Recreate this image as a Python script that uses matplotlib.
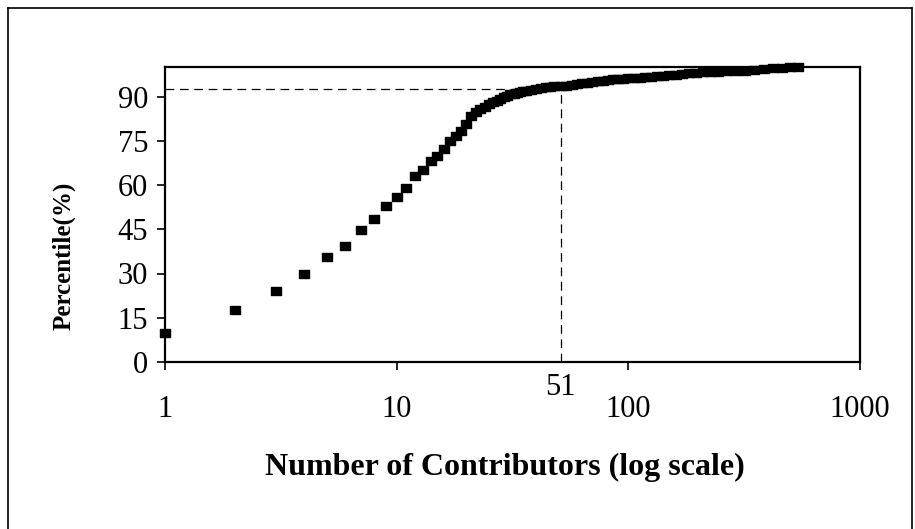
import numpy as np
import matplotlib
matplotlib.use('Agg')
import matplotlib.pyplot as plt
from matplotlib.lines import Line2D
from matplotlib.path import Path

plt.rcParams['font.family'] = ['Liberation Serif', 'DejaVu Serif']

# Datos (contribuidores vs percentil acumulado)
contributors = [1, 2, 3, 4, 5, 6, 7, 8, 9, 10, 11, 12, 13, 14, 15, 16, 17, 18,
                19, 20, 21, 22, 23, 24, 25, 26, 27, 28, 29, 30, 31, 32, 33, 34,
                35, 36, 38, 40, 42, 44, 46, 48, 51, 54, 57, 60, 63, 66, 70, 74,
                78, 82, 86, 90, 95, 100, 106, 112, 118, 125, 133, 141, 150, 160,
                170, 182, 195, 210, 225, 245, 265, 290, 320, 350, 385, 420, 460,
                500, 540]
percentile = [9.9, 17.7, 23.9, 29.9, 35.5, 39.2, 44.7, 48.5, 52.8, 55.9, 59.0,
              63.0, 65.0, 68.2, 70.0, 72.3, 74.8, 76.6, 78.4, 80.8, 83.3, 84.8,
              85.8, 86.6, 87.3, 88.0, 88.6, 89.2, 89.8, 90.3, 90.7, 91.0, 91.3,
              91.6, 91.8, 92.0, 92.3, 92.6, 92.9, 93.1, 93.2, 93.4, 93.5, 93.7,
              94.0, 94.3, 94.5, 94.7, 95.0, 95.2, 95.4, 95.7, 95.9, 96.0, 96.1,
              96.2, 96.3, 96.4, 96.5, 96.7, 96.9, 97.1, 97.2, 97.3, 97.5, 97.8,
              98.0, 98.2, 98.3, 98.4, 98.5, 98.6, 98.8, 99.0, 99.3, 99.6, 99.8,
              100.0, 100.0]
xticks = [1, 10, 100, 1000]
yticks = [0, 15, 30, 45, 60, 75, 90]
cut_x = 51
cut_y = 92.7

fig = plt.figure(figsize=(9.15, 5.29), dpi=100)
ax = fig.add_axes([165 / 915, 1 - 362 / 529, 695 / 915, 295 / 529])

# marcador rectangular (mas ancho que alto)
rect = Path([(-1.2, -0.9), (1.2, -0.9), (1.2, 0.9), (-1.2, 0.9), (-1.2, -0.9)],
            [Path.MOVETO, Path.LINETO, Path.LINETO, Path.LINETO, Path.CLOSEPOLY])
ax.plot(contributors, percentile, linestyle='none', marker=rect, markersize=7.8,
        color='black', clip_on=False, zorder=3)

# lineas de referencia punteadas
ax.plot([1, cut_x], [cut_y, cut_y], color='black', lw=0.9, dashes=(7, 4.5), zorder=2)
ax.plot([cut_x, cut_x], [0, cut_y], color='black', lw=0.9, dashes=(7, 4.5), zorder=2)

ax.set_xscale('log')
ax.set_xlim(1, 1000)
ax.set_ylim(0, 100)
ax.set_xticks(xticks)
ax.set_xticklabels([str(t) for t in xticks])
ax.xaxis.set_minor_locator(matplotlib.ticker.NullLocator())
ax.set_yticks(yticks)
ax.tick_params(axis='both', direction='out', length=6, width=1.2, labelsize=22,
               color='black')
ax.tick_params(axis='x', pad=18)
ax.tick_params(axis='y', pad=6)
for s in ax.spines.values():
    s.set_linewidth(1.6)
    s.set_color('black')

ax.text(cut_x, -0.085, '51', transform=ax.get_xaxis_transform(), ha='center',
        va='center', fontsize=22)

fig.text(505 / 915, 1 - 467 / 529, 'Number of Contributors (log scale)',
         ha='center', va='center', fontsize=23, fontweight='bold')
fig.text(64 / 915, 1 - 256 / 529, 'Percentile(%)', rotation=90, ha='center',
         va='center', fontsize=18, fontweight='bold')

# marco exterior
fig.add_artist(Line2D([8 / 915, 8 / 915], [0, 1 - 8 / 529], color='black', lw=1.2))
fig.add_artist(Line2D([8 / 915, 912 / 915], [1 - 8 / 529, 1 - 8 / 529], color='black', lw=1.2))
fig.add_artist(Line2D([912 / 915, 912 / 915], [0, 1 - 8 / 529], color='black', lw=1.2))

fig.savefig('out.png', dpi=100)
